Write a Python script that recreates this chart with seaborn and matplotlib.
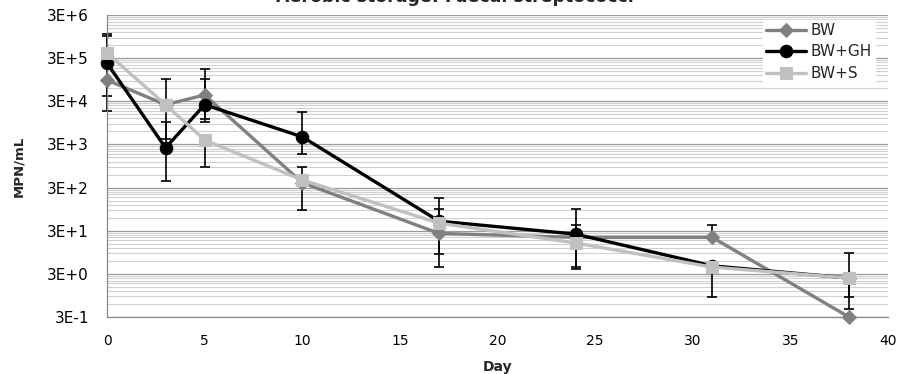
import numpy as np
import pandas as pd
import matplotlib
matplotlib.use("Agg")
import matplotlib.pyplot as plt
import seaborn as sns

# Sampling days
days = [0, 3, 5, 10, 17, 24, 31, 38]

# MPN/mL per treatment
bw = [9.3e4, 2.5e4, 4.2e4, 3.9e2, 26, 21, 21, 0.3]
bw_gh = [2.3e5, 2.5e3, 2.5e4, 4.5e3, 50, 25, 4.6, 2.4]
bw_s = [3.95e5, 2.5e4, 3.8e3, 4.5e2, 45, 15.6, 4.3, 2.4]

# Error bar bounds (upper / lower) per treatment
bw_hi = [9.3e4, 2.5e4, 1.68e5, 3.9e2, 96, 41, 41, 0.3]
bw_lo = [4.0e4, 4.0e3, 1.17e4, 3.9e2, 4.3, 3.9, 21, 0.3]
bw_gh_hi = [9.8e5, 9.9e3, 9.9e4, 1.69e4, 50, 96, 4.6, 2.4]
bw_gh_lo = [1.79e4, 426, 9.9e3, 1.8e3, 50, 4.3, 4.6, 0.46]
bw_s_hi = [1.09e6, 9.9e4, 3.8e3, 900, 172, 15.6, 4.3, 9.1]
bw_s_lo = [3.95e5, 2.5e4, 900, 91, 8.6, 15.6, 0.87, 0.87]

series_names = ["BW", "BW+GH", "BW+S"]
y_ticks = [0.3, 3, 30, 300, 3000, 30000, 300000, 3000000]
y_tick_labels = ["3E-1", "3E+0", "3E+1", "3E+2", "3E+3", "3E+4", "3E+5", "3E+6"]
x_ticks = [0, 5, 10, 15, 20, 25, 30, 35, 40]

sns.set_theme(style="white")
plt.rcParams["font.family"] = ["DejaVu Sans"]

df = pd.DataFrame({
    "Day": days * 3,
    "MPN": bw + bw_gh + bw_s,
    "Series": [n for n in series_names for _ in days],
})

colors = {"BW": "#808080", "BW+GH": "#000000", "BW+S": "#c0c0c0"}
markers = {"BW": "D", "BW+GH": "o", "BW+S": "s"}
msize = {"BW": 7, "BW+GH": 9, "BW+S": 9}

fig = plt.figure(figsize=(9, 3.74), dpi=100)
ax = fig.add_axes([107 / 900, 1 - 317 / 374, (888 - 107) / 900, (317 - 15) / 374])

ax.set_yscale("log")
ax.set_ylim(0.3, 3e6)
ax.set_xlim(0, 40)

# Gridlines: major at 3E+k, minor at linear steps inside each decade
minor = [3 * 10.0 ** k * m for k in range(-1, 6) for m in range(2, 10)]
ax.set_yticks(y_ticks)
ax.set_yticklabels(y_tick_labels)
ax.set_yticks(minor, minor=True)
ax.yaxis.set_minor_formatter(matplotlib.ticker.NullFormatter())
ax.grid(True, which="minor", axis="y", color="#d0d0d0", linewidth=0.8, zorder=0)
ax.grid(True, which="major", axis="y", color="#9a9a9a", linewidth=0.9, zorder=0)
ax.grid(False, axis="x")
ax.set_axisbelow(True)

# Error bars beneath the lines and markers
for vals, lo, hi in [(bw, bw_lo, bw_hi), (bw_gh, bw_gh_lo, bw_gh_hi), (bw_s, bw_s_lo, bw_s_hi)]:
    v = np.array(vals)
    yerr = np.vstack([v - np.array(lo), np.array(hi) - v])
    eb = ax.errorbar(days, v, yerr=yerr, fmt="none", ecolor="black", elinewidth=1.2,
                     capsize=3.5, capthick=1.2, zorder=2)
    for artist in eb.lines[1] + eb.lines[2]:
        artist.set_clip_on(False)

for i, name in enumerate(series_names):
    sub = df[df["Series"] == name]
    sns.lineplot(data=sub, x="Day", y="MPN", ax=ax, color=colors[name],
                 marker=markers[name], markersize=msize[name],
                 markeredgecolor=colors[name], linewidth=2.4, label=name,
                 zorder=3 + i, clip_on=False, errorbar=None)

ax.set_xticks(x_ticks)
ax.set_xticklabels([str(t) for t in x_ticks])
ax.tick_params(axis="both", which="major", colors="black",
               length=4, width=0.8, direction="out", color="#888888")
ax.tick_params(axis="x", labelsize=10, pad=8)
ax.tick_params(axis="y", labelsize=11, pad=9)
ax.tick_params(axis="y", which="minor", length=0)
for side in ["top", "right"]:
    ax.spines[side].set_visible(False)
for side in ["left", "bottom"]:
    ax.spines[side].set_color("#888888")
    ax.spines[side].set_linewidth(0.9)

ax.set_xlabel("Day", fontsize=10, fontweight="bold")
ax.xaxis.set_label_coords(0.5, -(360 - 317) / 302)
ax.set_ylabel("MPN/mL", fontsize=9.5, fontweight="bold")
ax.yaxis.set_label_coords(-(107 - 25) / 781, 0.5)

leg = ax.legend(loc="upper right", bbox_to_anchor=((875 - 107) / 781, 1 - 5 / 302),
                borderaxespad=0, frameon=True, fontsize=11, handlelength=2.6,
                handletextpad=0.3, borderpad=0.2, labelspacing=0.42, fancybox=False)
leg.get_frame().set_edgecolor("white")
leg.get_frame().set_facecolor("white")
leg.get_frame().set_alpha(1)

fig.text(455 / 900, 1 - 2.5 / 374, "Aerobic storage: Faecal streptococci",
         ha="center", va="baseline", fontsize=12.5, fontweight="bold")

fig.savefig("out.png", dpi=100)
